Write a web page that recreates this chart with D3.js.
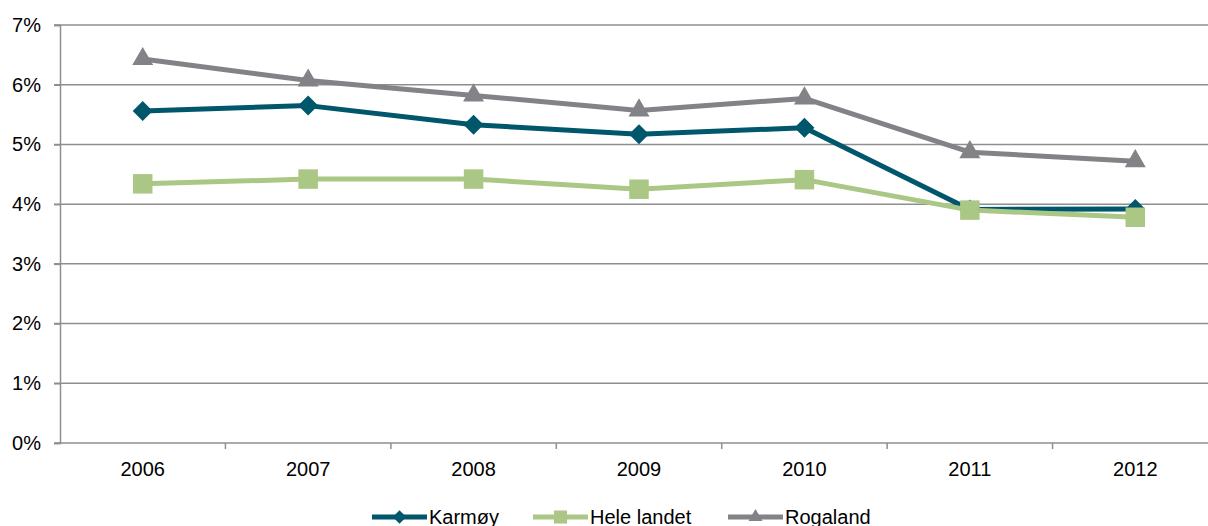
<!DOCTYPE html>
<html>
<head>
<meta charset="utf-8">
<script src="https://cdn.jsdelivr.net/npm/d3@7"></script>
<style>
  body { margin: 0; background: #fff; }
  svg { display: block; font-family: "Liberation Sans", Arial, sans-serif; }
</style>
</head>
<body>
<svg id="chart"></svg>
<script>
const years = ["2006", "2007", "2008", "2009", "2010", "2011", "2012"];
const karmoy = [5.56, 5.65, 5.33, 5.17, 5.28, 3.91, 3.92];
const heleLandet = [4.34, 4.42, 4.42, 4.25, 4.41, 3.90, 3.78];
const rogaland = [6.43, 6.07, 5.82, 5.57, 5.77, 4.87, 4.72];
const yTicks = [0, 1, 2, 3, 4, 5, 6, 7];

// diamond = square turned 45 degrees
const series = [
  { name: "Karmøy", values: karmoy, color: "#00566b", shape: d3.symbolSquare, size: 200, rot: 45 },
  { name: "Hele landet", values: heleLandet, color: "#abc785", shape: d3.symbolSquare, size: 380, rot: 0 },
  { name: "Rogaland", values: rogaland, color: "#828287", shape: d3.symbolTriangle, size: 190, rot: 0 }
];

const width = 1208, height = 526;
const svg = d3.select("#chart").attr("width", width).attr("height", height);

const plotLeft = 60, plotRight = 1218, plotTop = 25, plotBottom = 443;

const x = d3.scaleBand().domain(years).range([plotLeft, plotRight]);
const y = d3.scaleLinear().domain([0, 7]).range([plotBottom, plotTop]);

// horizontal gridlines
svg.append("g")
  .selectAll("line")
  .data(yTicks)
  .join("line")
  .attr("x1", plotLeft - 6)
  .attr("x2", width)
  .attr("y1", d => y(d))
  .attr("y2", d => y(d))
  .attr("stroke", "#8e8e8e")
  .attr("stroke-width", 1.5);

// y axis
const yAxis = svg.append("g")
  .attr("transform", `translate(${plotLeft},0)`)
  .call(d3.axisLeft(y).tickValues(yTicks).tickFormat(d => d + "%").tickSize(6).tickPadding(13));
yAxis.select(".domain").attr("stroke", "#8e8e8e").attr("stroke-width", 1.5);
yAxis.selectAll(".tick line").attr("stroke", "#8e8e8e").attr("stroke-width", 1.5);
yAxis.selectAll("text").attr("font-size", 20).attr("fill", "#000")
  .attr("font-family", "Liberation Sans, Arial, sans-serif");

// x axis with ticks at band boundaries
const xAxis = svg.append("g").attr("transform", `translate(0,${plotBottom})`);
xAxis.selectAll("line")
  .data(years.slice(1))
  .join("line")
  .attr("x1", d => x(d))
  .attr("x2", d => x(d))
  .attr("y1", 0)
  .attr("y2", 6)
  .attr("stroke", "#8e8e8e")
  .attr("stroke-width", 1.5);
xAxis.selectAll("text")
  .data(years)
  .join("text")
  .attr("x", d => x(d) + x.bandwidth() / 2)
  .attr("y", 33)
  .attr("text-anchor", "middle")
  .attr("font-size", 20)
  .attr("fill", "#000")
  .text(d => d);

// lines
const line = d3.line()
  .x((d, i) => x(years[i]) + x.bandwidth() / 2)
  .y(d => y(d));

series.forEach(s => {
  svg.append("path")
    .datum(s.values)
    .attr("d", line)
    .attr("fill", "none")
    .attr("stroke", s.color)
    .attr("stroke-width", 5)
    .attr("stroke-linejoin", "round");
});

series.forEach(s => {
  svg.append("g")
    .selectAll("path")
    .data(s.values)
    .join("path")
    .attr("transform", (d, i) => `translate(${x(years[i]) + x.bandwidth() / 2},${y(d)}) rotate(${s.rot})`)
    .attr("d", d3.symbol().type(s.shape).size(s.size))
    .attr("fill", s.color);
});

// legend
const legendX = [372, 533, 728];
const legendY = 517;
const legend = svg.append("g");
series.forEach((s, i) => {
  const g = legend.append("g").attr("transform", `translate(${legendX[i]},${legendY})`);
  g.append("line")
    .attr("x1", 0).attr("x2", 55)
    .attr("stroke", s.color).attr("stroke-width", 5);
  g.append("path")
    .attr("transform", `translate(27.5,0) rotate(${s.rot})`)
    .attr("d", d3.symbol().type(s.shape).size(s.size * 0.45))
    .attr("fill", s.color);
  g.append("text")
    .attr("x", 57)
    .attr("y", 7)
    .attr("font-size", 20)
    .attr("fill", "#000")
    .text(s.name);
});
</script>
</body>
</html>
